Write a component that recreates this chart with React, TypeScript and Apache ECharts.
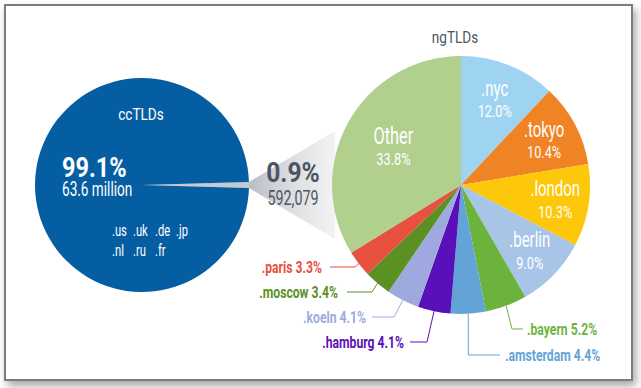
import React, { useEffect, useRef } from 'react';
import * as echarts from 'echarts';

// ---- data ----
const ngNames = ['.nyc', '.tokyo', '.london', '.berlin', '.bayern', '.amsterdam', '.hamburg', '.koeln', '.moscow', '.paris', 'Other'];
const ngShares = [12.0, 10.4, 10.3, 9.0, 5.2, 4.4, 4.1, 4.1, 3.4, 3.3, 33.8];
const ngColors = ['#9ed4f2', '#f08424', '#fec80a', '#a8c5e8', '#6cb33e', '#62a3d8', '#5a10b8', '#9ea9e0', '#5b9023', '#e8503f', '#b1d08e'];
const groupNames = ['ngTLDs', 'ccTLDs'];
const groupShares = [0.9, 99.1];
const groupCounts = ['592,079', '63.6 million'];
const ccCodes = ['.us', '.uk', '.de', '.jp', '.nl', '.ru', '.fr'];

// ---- layout / style ----
const FONT = "Roboto, 'Liberation Sans', sans-serif";
const REG = 0.7; // horizontal condensing of regular text
const BOLD = 0.82; // horizontal condensing of bold text
const CX = 461, CY = 185, R = 129;
const BCX = 142, BCY = 185, BR = 107;
const BLUE = '#065ea2';
const DARK = '#4b5662';

const innerFactor: Record<string, number> = { '.nyc': 0.71, '.tokyo': 0.73, '.london': 0.74, '.berlin': 0.74, Other: 0.6 };
const outerLayout: Record<string, { align: string; tx: number; y: number; ex: number | null; lx: number }> = {
  '.paris': { align: 'right', tx: 322, y: 267, ex: 355, lx: 330 },
  '.moscow': { align: 'right', tx: 338, y: 292, ex: 372, lx: 347 },
  '.koeln': { align: 'right', tx: 366, y: 317, ex: 394, lx: 372 },
  '.hamburg': { align: 'right', tx: 404, y: 342, ex: 427, lx: 410 },
  '.bayern': { align: 'left', tx: 527, y: 329, ex: 512, lx: 523 },
  '.amsterdam': { align: 'left', tx: 505, y: 355, ex: null, lx: 500 },
};
const ccCols = [112, 133, 155, 176];
const ccRows = [230, 250];

const ngTotal = ngShares.reduce((a, b) => a + b, 0);
function midAngle(i: number) {
  let s = 0;
  for (let j = 0; j < i; j++) s += ngShares[j];
  return ((s + ngShares[i] / 2) / ngTotal) * Math.PI * 2;
}
function pt(a: number, r: number): number[] {
  return [CX + r * Math.sin(a), CY - r * Math.cos(a)];
}

function txt(text: string, x: number, y: number, size: number, color: string, opts: any = {}) {
  return {
    type: 'text',
    x,
    y,
    z: 10,
    silent: true,
    scaleX: opts.scaleX ?? (opts.bold ? BOLD : REG),
    style: {
      text,
      fill: color,
      font: `${opts.bold ? 'bold ' : ''}${size}px ${FONT}`,
      textAlign: opts.align ?? 'center',
      textVerticalAlign: 'middle',
    },
  };
}

export default function App() {
  const ref = useRef<HTMLDivElement>(null);
  useEffect(() => {
    if (!ref.current) return;
    const chart = echarts.init(ref.current, undefined, { renderer: 'svg' });

    const sliverHalf = (groupShares[0] / 100) * Math.PI;
    const coneLeftX = BCX + BR * Math.cos(sliverHalf);
    const coneHalf = BR * Math.sin(sliverHalf);

    const sliceLabels: any[] = [];
    ngNames.forEach((name, i) => {
      const a = midAngle(i);
      const pct = ngShares[i].toFixed(1) + '%';
      if (innerFactor[name] != null) {
        const [x, y] = pt(a, R * innerFactor[name]);
        sliceLabels.push(txt(name, x, y - 11, name === 'Other' ? 24 : 22, '#ffffff', { scaleX: 0.68 }));
        sliceLabels.push(txt(pct, x, y + 12, 17, '#ffffff', { scaleX: 0.75 }));
      } else {
        const o = outerLayout[name];
        const p0 = pt(a, R);
        const ex = o.ex == null ? p0[0] : o.ex;
        sliceLabels.push({
          type: 'polyline',
          z: 9,
          silent: true,
          shape: { points: [p0, [ex, o.y], [o.lx, o.y]] },
          style: { stroke: ngColors[i], lineWidth: 1, fill: null },
        });
        sliceLabels.push(txt(`${name} ${pct}`, o.tx, o.y, 16, ngColors[i], { bold: true, align: o.align, scaleX: 0.76 }));
      }
    });

    const graphics: any[] = [
      {
        type: 'rect',
        z: 0,
        silent: true,
        shape: { x: 5, y: 5, width: 627, height: 375 },
        style: {
          fill: '#ffffff',
          stroke: '#7b7b7b',
          lineWidth: 2,
          shadowBlur: 8,
          shadowOffsetX: 3,
          shadowOffsetY: 5,
          shadowColor: 'rgba(0,0,0,0.35)',
        },
      },
      {
        type: 'polygon',
        z: 1,
        silent: true,
        shape: {
          points: [
            [coneLeftX, BCY - coneHalf],
            [CX - R + 3, CY - 54],
            [CX - R + 3, CY + 54],
            [coneLeftX, BCY + coneHalf],
          ],
        },
        style: {
          fill: {
            type: 'linear',
            x: 0,
            y: 0,
            x2: 1,
            y2: 0,
            colorStops: [
              { offset: 0, color: '#b9bec5' },
              { offset: 0.5, color: '#dcdee1' },
              { offset: 1, color: '#f3f3f3' },
            ],
          },
        },
      },
      txt(groupNames[0], 455, 37, 17, DARK, { scaleX: 0.8 }),
      txt(groupNames[1], BCX - 1, 114, 17, '#ffffff', { scaleX: 0.8 }),
      txt(groupShares[1].toFixed(1) + '%', 62, 167, 28, '#ffffff', { bold: true, align: 'left', scaleX: 0.84 }),
      txt(groupCounts[1], 62, 189, 20, '#ffffff', { align: 'left', scaleX: 0.68 }),
      txt(groupShares[0].toFixed(1) + '%', 293, 172, 28, DARK, { bold: true, scaleX: 0.88 }),
      txt(groupCounts[0], 293, 197, 21, DARK, { scaleX: 0.68 }),
      ...ccCodes.map((c, i) => txt(c, ccCols[i % 4], ccRows[Math.floor(i / 4)], 16, '#ffffff', { align: 'left' })),
      ...sliceLabels,
    ];

    chart.setOption({
      animation: false,
      backgroundColor: '#ffffff',
      graphic: { elements: graphics },
      series: [
        {
          type: 'pie',
          silent: true,
          center: [BCX, BCY],
          radius: [0, BR],
          startAngle: (groupShares[0] / 100) * 180,
          clockwise: true,
          label: { show: false },
          labelLine: { show: false },
          data: [
            { name: groupNames[0], value: groupShares[0], itemStyle: { color: '#c5cad1' } },
            { name: groupNames[1], value: groupShares[1], itemStyle: { color: BLUE } },
          ],
        },
        {
          type: 'pie',
          silent: true,
          center: [CX, CY],
          radius: [0, R],
          startAngle: 90,
          clockwise: true,
          label: { show: false },
          labelLine: { show: false },
          itemStyle: { borderWidth: 0 },
          data: ngNames.map((name, i) => ({ name, value: ngShares[i], itemStyle: { color: ngColors[i] } })),
        },
      ],
    });
    return () => chart.dispose();
  }, []);
  return <div ref={ref} style={{ position: 'absolute', left: 0, top: 0, width: 641, height: 388 }} />;
}
